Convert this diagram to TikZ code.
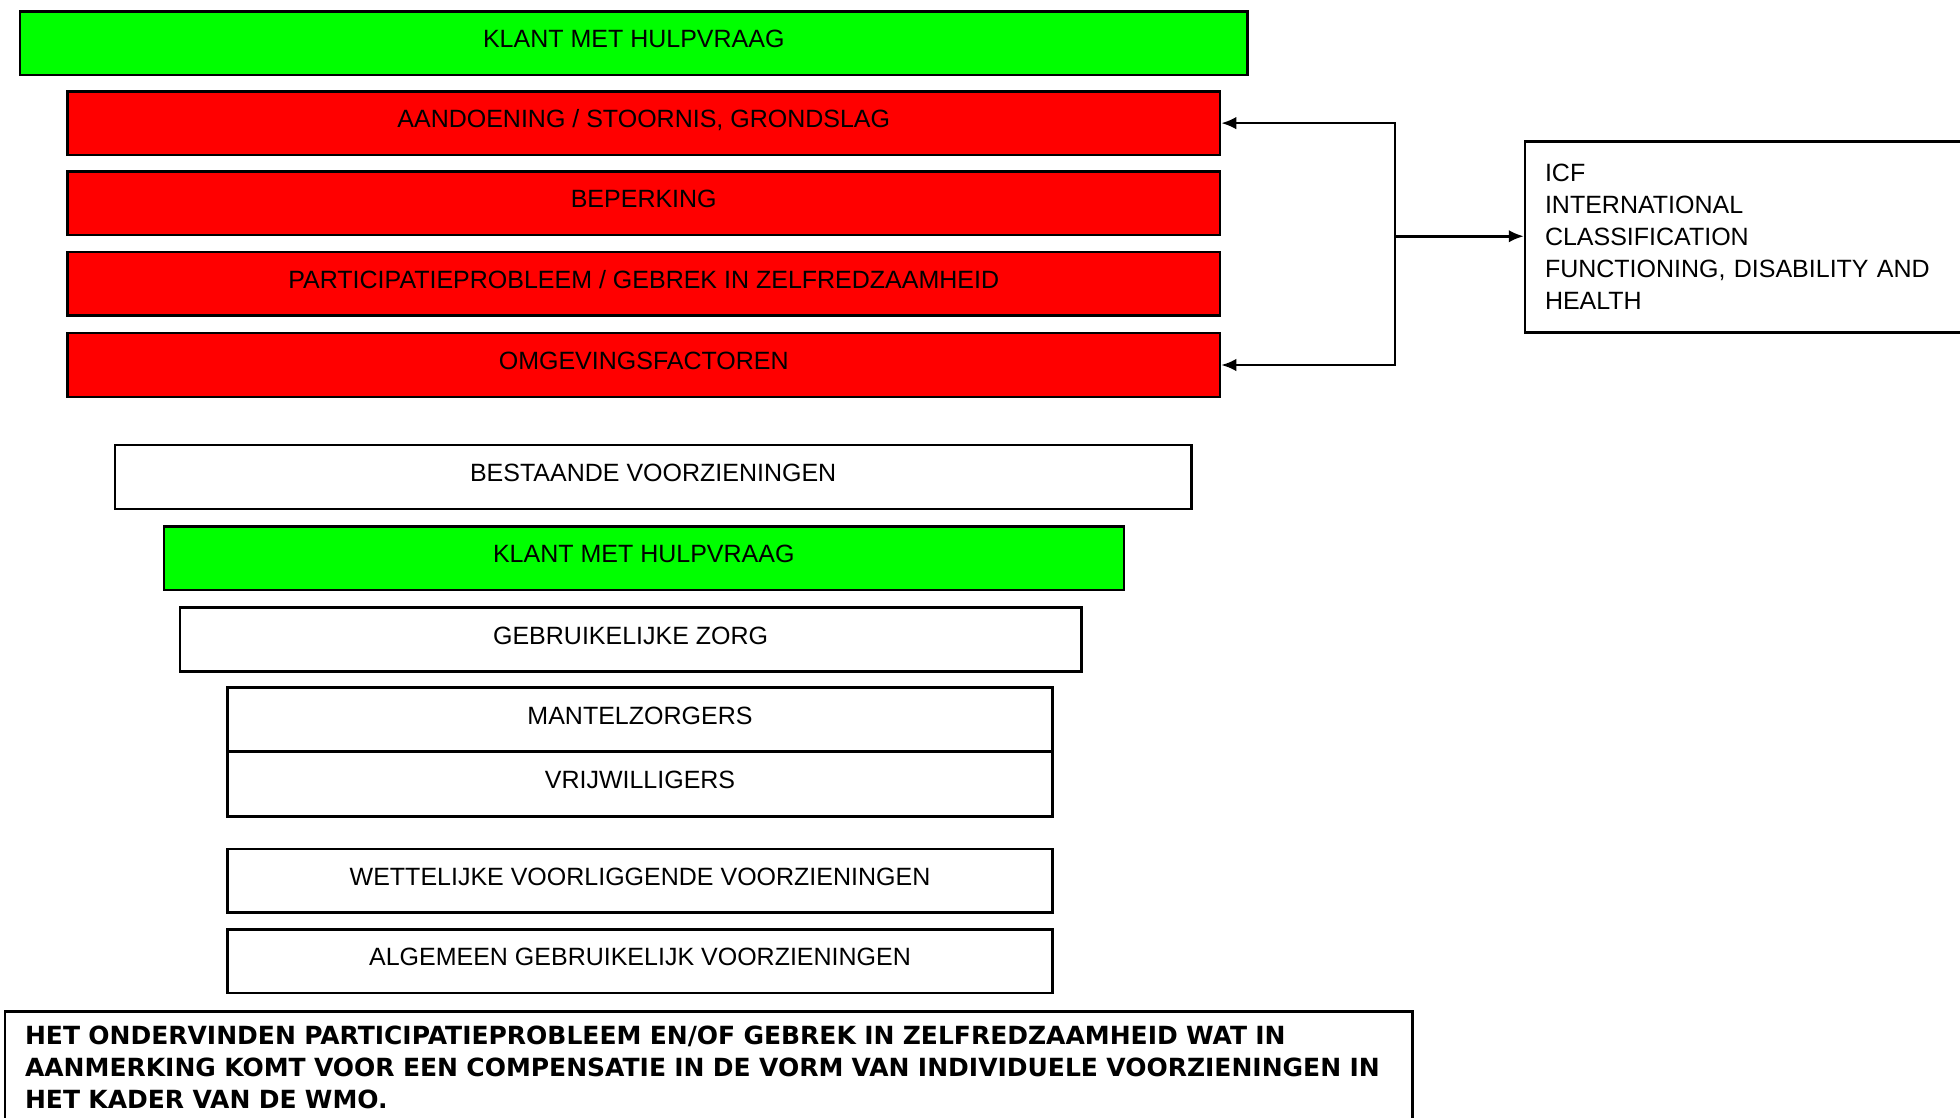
\documentclass[tikz,border=0pt]{standalone}
\usepackage{fontspec}
\setmainfont{Liberation Sans}
\newfontfamily\vetfont{DejaVu Sans}
\usetikzlibrary{arrows.meta}
\definecolor{groen}{RGB}{0,255,0}
\definecolor{rood}{RGB}{255,0,0}
\tikzset{
	vak/.style={draw, line width=1pt, minimum height=25.5pt, inner sep=0pt, text height=7.2pt, text depth=3.5pt, font=\fontsize{10}{13}\selectfont},
	pijl/.style={line width=1pt, -{Latex[length=6pt,width=5pt]}},
}

\begin{document}
\begin{tikzpicture}[x=0.5pt, y=-0.5pt]
			%%%%% START %%%%%
			\useasboundingbox (0,0) rectangle (1568,894);
			\clip (0,0) rectangle (1568,894);
			
			\node[vak, fill=groen, minimum width=491pt] (klant) at (507, 34.5) {KLANT MET HULPVRAAG};
			
			\node[vak, fill=rood, minimum width=461pt] (aandoening) at (515, 98.5) {AANDOENING / STOORNIS, GRONDSLAG};
			\node[vak, fill=rood, minimum width=461pt] (beperking) at (515, 162.5) {BEPERKING};
			\node[vak, fill=rood, minimum width=461pt] (participatie) at (515, 227) {PARTICIPATIEPROBLEEM / GEBREK IN ZELFREDZAAMHEID};
			\node[vak, fill=rood, minimum width=461pt] (omgeving) at (515, 292) {OMGEVINGSFACTOREN};
			
			\node[vak, minimum width=430.5pt] (bestaande) at (522.5, 381.5) {BESTAANDE VOORZIENINGEN};
			\node[vak, fill=groen, minimum width=384pt] (klanttwee) at (515, 446.5) {KLANT MET HULPVRAAG};
			\node[vak, minimum width=360.5pt] (zorg) at (504.5, 511.5) {GEBRUIKELIJKE ZORG};
			\node[vak, minimum width=330pt] (mantel) at (512, 575.5) {MANTELZORGERS};
			\node[vak, minimum width=330pt, minimum height=26pt] (vrijwillig) at (512, 627) {VRIJWILLIGERS};
			\node[vak, minimum width=330pt] (wettelijk) at (512, 704.5) {WETTELIJKE VOORLIGGENDE VOORZIENINGEN};
			\node[vak, minimum width=330pt] (algemeen) at (512, 769) {ALGEMEEN GEBRUIKELIJK VOORZIENINGEN};
			
			\node[vak, anchor=north west, minimum height=76.5pt, text width=400pt, align=left, inner xsep=8pt, text height=, text depth=, font=\fontsize{10}{12.75}\selectfont] (icf) at (1219, 112) {ICF\\INTERNATIONAL\\CLASSIFICATION\\FUNCTIONING, DISABILITY AND\\HEALTH\\[-3.5pt]};
			
			\coordinate (splitsing) at (1116, 189);
			\draw[pijl] (splitsing) |- (aandoening.east);
			\draw[pijl] (splitsing) |- (omgeving.east);
			\draw[pijl] (splitsing) -- (splitsing -| icf.west);
			
			\node[vak, anchor=north west, text width=547pt, align=left, inner xsep=8pt, inner ysep=6pt, text height=, text depth=60pt, font=\fontsize{10}{12.75}\selectfont\vetfont\bfseries] (wmo) at (3, 808) {HET ONDERVINDEN PARTICIPATIEPROBLEEM EN/OF GEBREK IN ZELFREDZAAMHEID WAT IN\\AANMERKING KOMT VOOR EEN COMPENSATIE IN DE VORM VAN INDIVIDUELE VOORZIENINGEN IN\\HET KADER VAN DE WMO.};
			
			%%%%% END %%%%%
		\end{tikzpicture}
\end{document}
